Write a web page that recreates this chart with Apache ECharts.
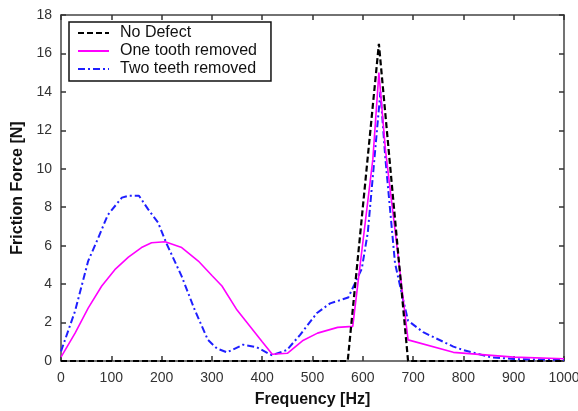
<!DOCTYPE html>
<html>
<head>
<meta charset="utf-8">
<script src="https://cdn.jsdelivr.net/npm/echarts@6/dist/echarts.min.js"></script>
<style>
  html, body { margin: 0; padding: 0; background: #fff; }
  #chart { width: 578px; height: 411px; }
</style>
</head>
<body>
<div id="chart"></div>
<script>
// Friction force spectra for a gear with no defect and with missing teeth
const seriesNames = ['No Defect', 'One tooth removed', 'Two teeth removed'];

const noDefectFreq  = [0, 570, 632, 690, 1000];
const noDefectForce = [0, 0, 16.5, 0, 0];

const oneToothFreq  = [0, 28, 54, 81, 107, 134, 160, 180, 207, 240, 273, 300, 320, 350, 400, 420, 450,
                       480, 510, 550, 580, 620, 632, 645, 690, 780, 900, 1000];
const oneToothForce = [0.2, 1.45, 2.75, 3.9, 4.75, 5.4, 5.9, 6.15, 6.2, 5.9, 5.2, 4.45, 3.9, 2.65, 1.0, 0.35, 0.4,
                       1.05, 1.45, 1.75, 1.8, 10.5, 15.0, 11.0, 1.1, 0.45, 0.2, 0.12];

const twoTeethFreq  = [0, 28, 54, 74, 93, 121, 135, 155, 173, 193, 210, 240, 266, 292, 310, 330, 362, 389,
                       419, 449, 475, 509, 535, 571, 598, 610, 635, 645, 664, 680, 690, 720, 780, 800,
                       853, 900, 1000];
const twoTeethForce = [0.5, 2.6, 5.2, 6.4, 7.6, 8.5, 8.6, 8.6, 7.9, 7.2, 6.1, 4.4, 2.65, 1.1, 0.65, 0.45, 0.85, 0.72,
                       0.3, 0.57, 1.35, 2.5, 3.0, 3.3, 4.8, 6.7, 14.0, 10.5, 5.1, 3.2, 2.1, 1.5, 0.75, 0.57,
                       0.2, 0.1, 0.05];

const xTicks = { min: 0, max: 1000, interval: 100 };
const yTicks = { min: 0, max: 18, interval: 2 };

const pairs = (xs, ys) => xs.map((x, i) => [x, ys[i]]);

const FONT = 'Liberation Sans, Arial, sans-serif';
const axisLine = { show: true, onZero: false, lineStyle: { color: '#444', width: 1.5 } };
const tickIn = { show: true, inside: true, length: 5, lineStyle: { color: '#333', width: 1.5 } };

const chart = echarts.init(document.getElementById('chart'), null, { renderer: 'canvas' });
chart.setOption({
  animation: false,
  backgroundColor: '#fff',
  grid: { left: 61, right: 14, top: 15, bottom: 50, containLabel: false, outerBoundsMode: 'none' },
  legend: {
    orient: 'vertical',
    left: 69, top: 22,
    data: seriesNames,
    itemWidth: 31, itemHeight: 14, itemGap: 2,
    padding: [3, 14, 4, 8],
    borderColor: '#111', borderWidth: 1.5,
    backgroundColor: '#fff',
    itemStyle: { opacity: 0 },
    textStyle: { fontFamily: FONT, fontSize: 16, color: '#111', padding: [0, 0, 0, 6] }
  },
  xAxis: [
    {
      type: 'value', position: 'bottom', ...xTicks,
      name: 'Frequency [Hz]', nameLocation: 'middle', nameGap: 31,
      nameTextStyle: { fontFamily: FONT, fontSize: 16, fontWeight: 'bold', color: '#111' },
      axisLine, axisTick: tickIn, splitLine: { show: false },
      axisLabel: { fontFamily: FONT, fontSize: 14, color: '#333', margin: 10, formatter: v => String(v) }
    },
    {
      type: 'value', position: 'top', ...xTicks,
      axisLine, axisTick: tickIn, splitLine: { show: false }, axisLabel: { show: false }
    }
  ],
  yAxis: [
    {
      type: 'value', position: 'left', ...yTicks,
      name: 'Friction Force [N]', nameLocation: 'middle', nameGap: 28,
      nameTextStyle: { fontFamily: FONT, fontSize: 16, fontWeight: 'bold', color: '#111' },
      axisLine, axisTick: tickIn, splitLine: { show: false },
      axisLabel: { fontFamily: FONT, fontSize: 14, color: '#333', margin: 9 }
    },
    {
      type: 'value', position: 'right', ...yTicks,
      axisLine, axisTick: tickIn, splitLine: { show: false }, axisLabel: { show: false }
    }
  ],
  series: [
    {
      name: seriesNames[0], type: 'line', data: pairs(noDefectFreq, noDefectForce),
      symbol: 'none', z: 4,
      lineStyle: { color: '#000', width: 2.2, type: [6, 3] },
      itemStyle: { color: '#000' }
    },
    {
      name: seriesNames[1], type: 'line', data: pairs(oneToothFreq, oneToothForce),
      symbol: 'none', z: 3,
      lineStyle: { color: '#ff00ff', width: 1.6, type: 'solid' },
      itemStyle: { color: '#ff00ff' }
    },
    {
      name: seriesNames[2], type: 'line', data: pairs(twoTeethFreq, twoTeethForce),
      symbol: 'none', z: 2,
      lineStyle: { color: '#1f1fff', width: 2, type: [7, 3, 2, 3] },
      itemStyle: { color: '#1f1fff' }
    }
  ]
});
</script>
</body>
</html>
